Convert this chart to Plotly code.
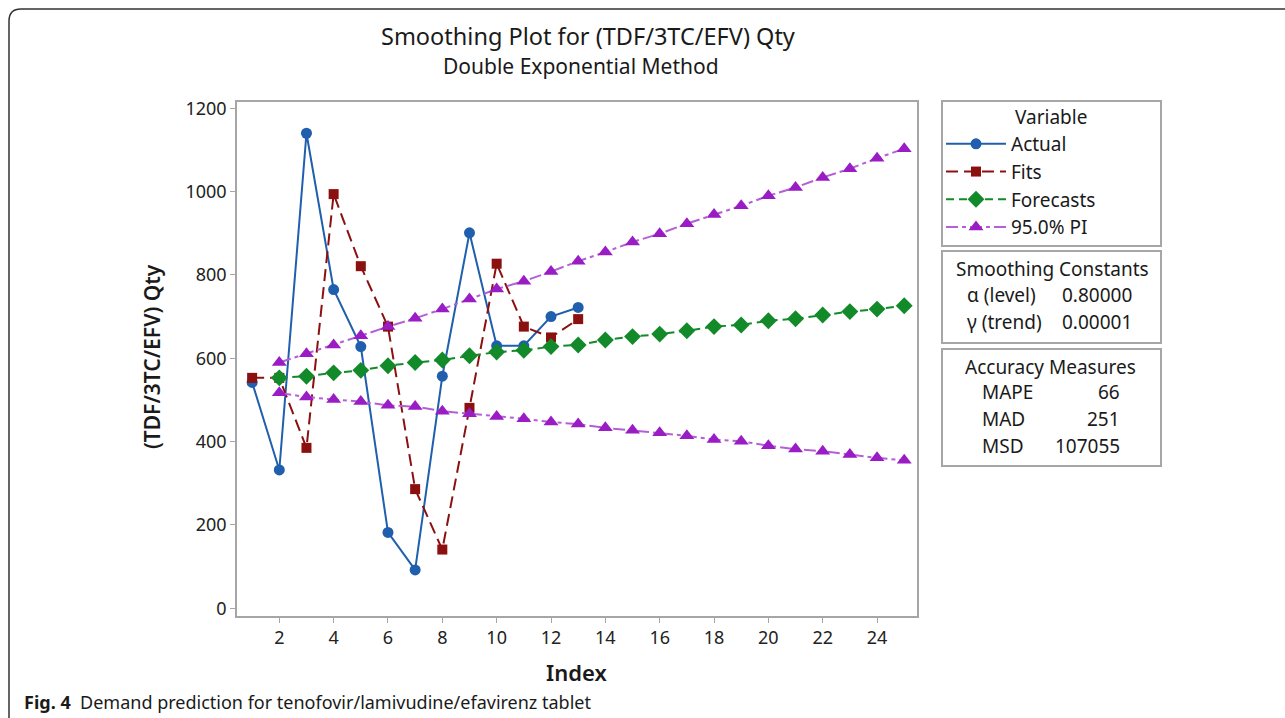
import plotly.graph_objects as go

# ---------------- data ----------------
actual_x = list(range(1, 14))
actual_y = [542, 332, 1140, 765, 628, 182, 92, 557, 901, 630, 630, 700, 722]

fits_x = list(range(1, 14))
fits_y = [553, 553, 385, 994, 821, 676, 286, 141, 481, 827, 676, 650, 694]

fc_x = list(range(2, 26))
fc_y = [553, 557, 565, 571, 582, 590, 596, 606, 615, 619, 628, 632,
        644, 652, 658, 666, 676, 680, 690, 695, 704, 712, 718, 726]

pi_upper = [590, 611, 632, 654, 676, 696, 718, 742, 766, 785, 808, 833,
            855, 879, 899, 923, 945, 966, 990, 1010, 1034, 1055, 1080, 1103]
pi_lower = [517, 507, 501, 496, 487, 484, 473, 467, 460, 455, 447, 442,
            433, 427, 421, 414, 405, 401, 390, 382, 377, 369, 361, 355]

x_ticks = list(range(2, 25, 2))
y_ticks = list(range(0, 1201, 200))

smoothing_labels = ["α (level)", "γ (trend)"]
smoothing_values = ["0.80000", "0.00001"]
accuracy_labels = ["MAPE", "MAD", "MSD"]
accuracy_values = ["66", "251", "107055"]

# ---------------- layout geometry (pixels) ----------------
W, H = 1285, 718
L, R, T, B = 237, 917, 102, 616
pw, ph = R - L, B - T


def px(x):
    return (x - L) / pw


def py(y):
    return (B - y) / ph


FONT = "Noto Sans"
TXT = "#1a1a1a"
BLUE = "#1f5fad"
RED = "#8b1010"
GREEN = "#138a2a"
PURPLE = "#9a1cc4"
PURPLE_L = "#b45fd6"

fig = go.Figure()

fig.add_trace(go.Scatter(
    x=actual_x, y=actual_y, name="Actual", mode="lines+markers",
    line=dict(color=BLUE, width=2),
    marker=dict(symbol="circle", size=11, color=BLUE)))
fig.add_trace(go.Scatter(
    x=fits_x, y=fits_y, name="Fits", mode="lines+markers",
    line=dict(color=RED, width=2, dash="12px,6px"),
    marker=dict(symbol="square", size=10, color=RED)))
fig.add_trace(go.Scatter(
    x=fc_x, y=fc_y, name="Forecasts", mode="lines+markers",
    line=dict(color=GREEN, width=2, dash="8px,5px"),
    marker=dict(symbol="diamond", size=13, color=GREEN)))
fig.add_trace(go.Scatter(
    x=fc_x, y=pi_upper, name="95.0% PI", mode="lines+markers",
    line=dict(color=PURPLE_L, width=2, dash="12px,4px,4px,4px"),
    marker=dict(symbol="triangle-up", size=13, color=PURPLE)))
fig.add_trace(go.Scatter(
    x=fc_x, y=pi_lower, name="95.0% PI", mode="lines+markers", showlegend=False,
    line=dict(color=PURPLE_L, width=2, dash="12px,4px,4px,4px"),
    marker=dict(symbol="triangle-up", size=13, color=PURPLE)))

# axis calibration from the reference: x=2 at 279.3px, 27.17 px/unit;
# y=0 at 608.3px, 0.4167 px/unit
x_min = 2 - (279.3 - L) / 27.17
x_max = 2 + (R - 279.3) / 27.17
y_min = -(B - 608.3) / 0.4167
y_max = (608.3 - T) / 0.4167

axis_common = dict(
    showgrid=False, zeroline=False, showline=True, linecolor="#a6a6a6",
    linewidth=1.5, mirror=True, ticks="outside", ticklen=5, tickcolor="#a6a6a6",
    tickfont=dict(family=FONT, size=18, color="#222"))

fig.update_xaxes(range=[x_min, x_max], tickvals=x_ticks, **axis_common)
fig.update_yaxes(range=[y_min, y_max], tickvals=y_ticks, **axis_common)

shapes = []
# outer rounded frame
r = 12
shapes.append(dict(
    type="path", xref="paper", yref="paper",
    path=(f"M {px(9)},{py(730)} L {px(9)},{py(9 + r)} "
          f"Q {px(9)},{py(9)} {px(9 + r)},{py(9)} L {px(1300)},{py(9)}"),
    line=dict(color="#333", width=1.5)))
# info boxes
for (y0, y1) in [(101, 246), (251, 343), (349, 466)]:
    shapes.append(dict(type="rect", xref="paper", yref="paper",
                       x0=px(942), x1=px(1161), y0=py(y1), y1=py(y0),
                       line=dict(color="#a6a6a6", width=2), fillcolor="white",
                       layer="below"))

ann = []


def text(x, y, s, size, xanchor="center", angle=0, color=TXT, family=FONT, weight=None):
    f = dict(family=family, size=size, color=color)
    if weight:
        f["weight"] = weight
    ann.append(dict(x=px(x), y=py(y), xref="paper", yref="paper", text=s,
                    showarrow=False, xanchor=xanchor, yanchor="middle",
                    textangle=angle, font=f))


text(588, 36, "Smoothing Plot for (TDF/3TC/EFV) Qty", 23.5)
text(581, 66, "Double Exponential Method", 21)
text(152, 357, "(TDF/3TC/EFV) Qty", 21, angle=-90, weight=600)
text(576, 672, "Index", 22, weight=600)
text(1051, 117, "Variable", 19)

text(1052, 269, "Smoothing Constants", 19)
for i, (lab, val) in enumerate(zip(smoothing_labels, smoothing_values)):
    yy = 295 + i * 27
    text(965, yy, lab, 19, xanchor="left")
    text(1134, yy, val, 19, xanchor="right")

text(1050, 367, "Accuracy Measures", 19)
for i, (lab, val) in enumerate(zip(accuracy_labels, accuracy_values)):
    yy = 392 + i * 27
    text(980, yy, lab, 19, xanchor="left")
    text(1122, yy, val, 19, xanchor="right")

text(22, 702, "<b>Fig. 4</b>  Demand prediction for tenofovir/lamivudine/efavirenz tablet",
     18, xanchor="left")

fig.update_layout(
    width=W, height=H,
    margin=dict(l=L, r=W - R, t=T, b=H - B, pad=0),
    paper_bgcolor="white", plot_bgcolor="white",
    showlegend=True,
    legend=dict(x=px(941), y=py(125), xanchor="left", yanchor="top",
                bgcolor="rgba(0,0,0,0)", borderwidth=0,
                font=dict(family=FONT, size=19, color=TXT),
                itemwidth=60, tracegroupgap=0),
    shapes=shapes, annotations=ann,
)

fig.write_html("out.html", config={"displayModeBar": False},
               post_script="document.body.style.margin='0';document.body.style.overflow='hidden';")
